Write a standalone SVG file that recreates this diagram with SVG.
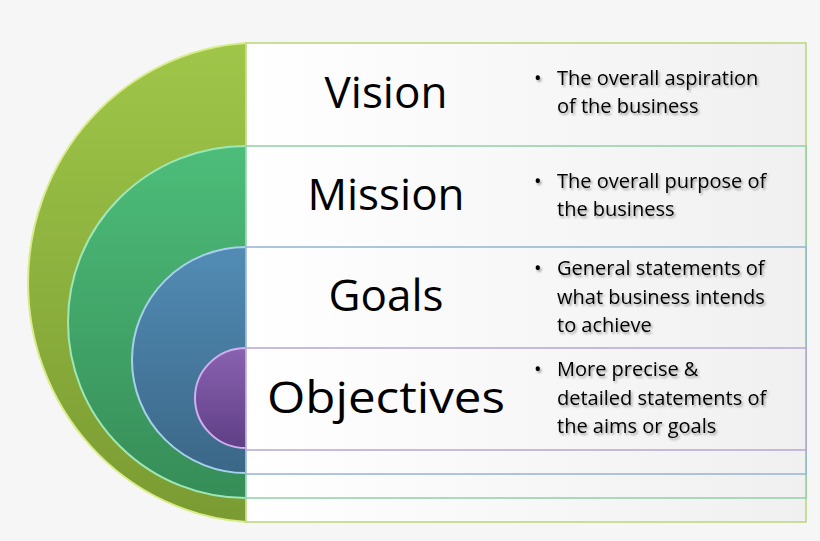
<svg xmlns="http://www.w3.org/2000/svg" width="820" height="541" viewBox="0 0 820 541">
<defs>
<linearGradient id="gG" x1="0" y1="0" x2="0" y2="1"><stop offset="0" stop-color="#9fc649"/><stop offset="1" stop-color="#7a9b32"/></linearGradient>
<linearGradient id="gM" x1="0" y1="0" x2="0" y2="1"><stop offset="0" stop-color="#4dbd7a"/><stop offset="1" stop-color="#368d57"/></linearGradient>
<linearGradient id="gB" x1="0" y1="0" x2="0" y2="1"><stop offset="0" stop-color="#528cb5"/><stop offset="1" stop-color="#3b6787"/></linearGradient>
<linearGradient id="gP" x1="0" y1="0" x2="0" y2="1"><stop offset="0" stop-color="#8a62b0"/><stop offset="1" stop-color="#5f3f86"/></linearGradient>
<linearGradient id="box" x1="0" y1="0" x2="1" y2="0"><stop offset="0" stop-color="#ffffff"/><stop offset="1" stop-color="#f0f0f0"/></linearGradient>
<filter id="sh" x="-5%" y="-20%" width="110%" height="150%"><feDropShadow dx="1.5" dy="2" stdDeviation="1.2" flood-color="#000" flood-opacity="0.35"/></filter>
<style>
.t{font-family:"Open Sans","Liberation Sans",sans-serif;font-size:44px;fill:#000;text-anchor:middle}
.b{font-family:"Open Sans","Liberation Sans",sans-serif;font-size:20px;fill:#000;filter:url(#sh)}
.r{fill:url(#box);stroke-width:1.5}
.arc{stroke-width:2}
</style>
</defs>
<rect width="820" height="541" fill="#f6f6f6"/>
<g id="arcs">
<path class="arc" d="M246,43 A233,240 0 0 0 246,522 Z" fill="url(#gG)" stroke="#d8ec8a"/>
<path class="arc" d="M246,146 A178,176 0 0 0 246,498 Z" fill="url(#gM)" stroke="#9ce8b8"/>
<path class="arc" d="M246,247 A114,113 0 0 0 246,473 Z" fill="url(#gB)" stroke="#a8d0ee"/>
<path class="arc" d="M246,348 A51,50 0 0 0 246,448 Z" fill="url(#gP)" stroke="#d0b0ee"/>
</g>
<g id="vision">
<rect class="r" x="246" y="43" width="560" height="479" stroke="#b9d67a"/>
<text class="t" x="386" y="108">Vision</text>
<text class="b"><tspan x="534" y="85">•</tspan><tspan x="557" y="85">The overall aspiration</tspan><tspan x="557" y="113">of the business</tspan></text>
</g>
<g id="mission">
<rect class="r" x="246" y="146" width="560" height="352" stroke="#8fcfa6"/>
<text class="t" x="386" y="210">Mission</text>
<text class="b"><tspan x="534" y="188">•</tspan><tspan x="557" y="188">The overall purpose of</tspan><tspan x="557" y="216">the business</tspan></text>
</g>
<g id="goals">
<rect class="r" x="246" y="247" width="560" height="227" stroke="#93b4cf"/>
<text class="t" x="386" y="311">Goals</text>
<text class="b"><tspan x="534" y="275">•</tspan><tspan x="557" y="275">General statements of</tspan><tspan x="557" y="304">what business intends</tspan><tspan x="557" y="332">to achieve</tspan></text>
</g>
<g id="objectives">
<rect class="r" x="246" y="348" width="560" height="102" stroke="#b9a4d2"/>
<text class="t" x="386" y="413" textLength="238" lengthAdjust="spacingAndGlyphs">Objectives</text>
<text class="b"><tspan x="534" y="376">•</tspan><tspan x="557" y="376">More precise &amp;</tspan><tspan x="557" y="405">detailed statements of</tspan><tspan x="557" y="433">the aims or goals</tspan></text>
</g>
<g id="connectors"/>
</svg>
